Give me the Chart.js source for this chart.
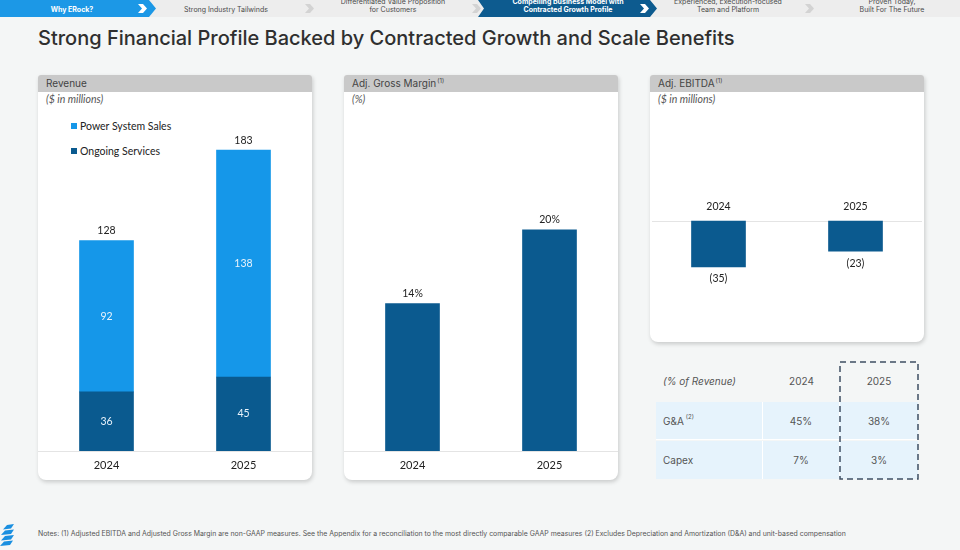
<!DOCTYPE html>
<html>
<head>
<meta charset="utf-8">
<script src="https://cdn.jsdelivr.net/npm/chart.js@4.4.1/dist/chart.umd.min.js"></script>
<style>
  html,body{margin:0;padding:0;}
  body{width:960px;height:550px;background:#f4f6f6;position:relative;overflow:hidden;font-family:Inter,"Open Sans",sans-serif;}
  .abs{position:absolute;}
  #title{left:38px;top:26px;font-size:20px;font-weight:500;color:#2f2f2f;line-height:24px;white-space:nowrap;}
  .panel{position:absolute;background:#fff;border-radius:3px 3px 8px 8px;box-shadow:1px 2px 4px rgba(0,0,0,0.18);}
  .phead{position:absolute;left:0;top:0;right:0;height:17px;background:#c9c9c9;border-radius:3px 3px 0 0;font-size:10px;color:#444;line-height:17px;padding-left:8px;box-sizing:border-box;}
  .phead sup{font-size:6px;vertical-align:top;line-height:12px;margin-left:1px;}
  .psub{position:absolute;left:8px;top:18px;font-family:Lato,"Open Sans",sans-serif;font-style:italic;font-size:10.5px;color:#555;}
  canvas{position:absolute;}
  .leg{position:absolute;font-family:Lato,"Open Sans",sans-serif;font-size:10.5px;color:#222;white-space:nowrap;line-height:12px;}
  .leg i{display:inline-block;width:6px;height:6px;margin-right:3px;vertical-align:1px;}
  .tbl{position:absolute;font-size:10px;color:#555;}
  .cell{position:absolute;height:38px;line-height:38px;box-sizing:border-box;}
  .notes{left:38px;top:529px;font-size:6.9px;color:#555;white-space:nowrap;}
</style>
</head>
<body>
<script>
// ---------- data ----------
const years = ['2024', '2025'];
const powerSystemSales = [92, 138];
const ongoingServices = [36, 45];
const grossMarginPct = [13.6, 20.4];
const adjEbitda = [-35, -23];
const tableHeader = ['(% of Revenue)', '2024', '2025'];
const tableRowNames = ['G&A', 'Capex'];
const gaPct = [45, 38];
const capexPct = [7, 3];
const navItems = [
  ['Why ERock?'],
  ['Strong Industry Tailwinds'],
  ['Differentiated Value Proposition', 'for Customers'],
  ['Compelling Business Model with', 'Contracted Growth Profile'],
  ['Experienced, Execution-focused', 'Team and Platform'],
  ['Proven Today,', 'Built For The Future']
];
</script>

<svg class="abs" style="left:0;top:0" width="960" height="18" id="nav"></svg>

<div id="title" class="abs">Strong Financial Profile Backed by Contracted Growth and Scale Benefits</div>

<div class="panel" style="left:38px;top:75px;width:274px;height:405px;">
  <div class="phead">Revenue</div>
  <div class="psub">($ in millions)</div>
  <div class="leg" style="left:33px;top:45px;"><i style="background:#1597e9"></i>Power System Sales</div>
  <div class="leg" style="left:33px;top:70px;"><i style="background:#0a5a8f"></i>Ongoing Services</div>
</div>
<div class="panel" style="left:344px;top:75px;width:274px;height:405px;">
  <div class="phead">Adj. Gross Margin<sup>(1)</sup></div>
  <div class="psub">(%)</div>
</div>
<div class="panel" style="left:650px;top:75px;width:274px;height:267px;">
  <div class="phead">Adj. EBITDA<sup>(1)</sup></div>
  <div class="psub">($ in millions)</div>
</div>

<canvas id="c1" width="274" height="389" style="left:38px;top:91px;"></canvas>
<canvas id="c2" width="274" height="389" style="left:344px;top:91px;"></canvas>
<canvas id="c3" width="274" height="250" style="left:650px;top:92px;"></canvas>

<div id="tbl" class="tbl" style="left:656px;top:362px;width:262px;height:117px;"></div>
<svg class="abs" style="left:838px;top:360px" width="84" height="122">
  <rect x="2" y="2" width="78" height="117" fill="none" stroke="#3e4f63" stroke-width="1.5" stroke-dasharray="6,4"/>
</svg>

<svg class="abs" style="left:0;top:524px" width="16" height="24">
  <polygon points="7,1 14,0 11,4.5 3,5.5" fill="#1a8fe0"/>
  <polygon points="5,6.5 14,5.5 11,10 1,11" fill="#1a8fe0"/>
  <polygon points="5,12 14,11 11,15.5 1,16.5" fill="#1a8fe0"/>
  <polygon points="4,17.5 13,16.5 10,21 0,22" fill="#1a8fe0"/>
</svg>
<div class="abs notes">Notes: (1) Adjusted EBITDA and Adjusted Gross Margin are non-GAAP measures. See the Appendix for a reconciliation to the most directly comparable GAAP measures (2) Excludes Depreciation and Amortization (D&amp;A) and unit-based compensation</div>

<script>
// ---------- nav bar ----------
(function(){
  const svg = document.getElementById('nav');
  const NS = 'http://www.w3.org/2000/svg';
  function el(tag, attrs, text){
    const e = document.createElementNS(NS, tag);
    for (const k in attrs) e.setAttribute(k, attrs[k]);
    if (text !== undefined) e.textContent = text;
    svg.appendChild(e); return e;
  }
  el('rect', {x:0, y:0, width:960, height:17, fill:'#ededed'});
  el('polygon', {points:'0,0 149,0 156,8.5 149,17 0,17', fill:'#1c98e6'});
  el('polygon', {points:'478,0 650,0 657,8.5 650,17 478,17 484,8.5', fill:'#0d5b8f'});
  const centers = [72, 226, 393, 568, 728, 892];
  const chev = [143, 310, 477, 645, 810];
  const active = [true, false, false, true, false, false];
  navItems.forEach((lines, i) => {
    const col = active[i] ? '#ffffff' : '#4a4a4a';
    const fw = active[i] ? '700' : '400';
    if (lines.length === 1) {
      el('text', {x:centers[i], y:11.5, 'text-anchor':'middle', 'font-size':'7', 'font-family':'Inter, sans-serif', 'font-weight':fw, fill:col}, lines[0]);
    } else {
      el('text', {x:centers[i], y:3.5, 'text-anchor':'middle', 'font-size':'7', 'font-family':'Inter, sans-serif', 'font-weight':fw, fill:col}, lines[0]);
      el('text', {x:centers[i], y:12, 'text-anchor':'middle', 'font-size':'7', 'font-family':'Inter, sans-serif', 'font-weight':fw, fill:col}, lines[1]);
    }
  });
  chev.forEach((cx, i) => {
    const c = (i === 0 || i === 3) ? '#ffffff' : '#d3d3d3';
    el('polygon', {points:`${cx-5},4 ${cx},4 ${cx+4},8.5 ${cx},13 ${cx-5},13 ${cx-1},8.5`, fill:c});
  });
})();

// ---------- table ----------
(function(){
  const t = document.getElementById('tbl');
  const colX = [0, 107, 184];
  const colW = [107, 77, 78];
  function cell(text, r, c, opts){
    const d = document.createElement('div');
    d.className = 'cell';
    d.style.left = colX[c] + 'px';
    d.style.top = (r * 39.5) + 'px';
    d.style.width = colW[c] + 'px';
    d.style.textAlign = c === 0 ? 'left' : 'center';
    if (c === 0) d.style.paddingLeft = '7px';
    if (r > 0) { d.style.background = '#e6f3fc'; d.style.borderRight = c < 2 ? '1.5px solid #ffffff' : 'none'; d.style.borderBottom = r === 1 ? '1.5px solid #ffffff' : 'none'; }
    if (opts && opts.italic) d.style.fontStyle = 'italic';
    d.innerHTML = text;
    t.appendChild(d);
  }
  cell(tableHeader[0], 0, 0, {italic:true});
  cell(tableHeader[1], 0, 1);
  cell(tableHeader[2], 0, 2);
  const rowVals = [gaPct, capexPct];
  tableRowNames.forEach((n, i) => {
    const name = n === 'G&A' ? 'G&amp;A<sup style="font-size:6px;vertical-align:top;line-height:30px;margin-left:2px">(2)</sup>' : n;
    cell(name, i + 1, 0);
    cell(rowVals[i][0] + '%', i + 1, 1);
    cell(rowVals[i][1] + '%', i + 1, 2);
  });
})();

// ---------- charts ----------
const LBL_FONT = '10.5px Lato, "Open Sans", sans-serif';
const xAxis = (extra) => Object.assign({
  grid:{display:false, drawTicks:false},
  border:{display:true, color:'#e4e4e4', width:1},
  ticks:{font:{family:'Lato', size:11}, color:'#222', padding:8},
  afterFit(s){ s.height = 29; }
}, extra || {});
const baseOpts = {
  responsive:false, maintainAspectRatio:false, animation:false,
  layout:{padding:0},
  plugins:{legend:{display:false}, tooltip:{enabled:false}}
};

// Revenue stacked
new Chart(document.getElementById('c1'), {
  type:'bar',
  data:{labels:years, datasets:[
    {label:'Ongoing Services', data:ongoingServices, backgroundColor:'#0a5a8f', barThickness:54, stack:'rev'},
    {label:'Power System Sales', data:powerSystemSales, backgroundColor:'#1597e9', barThickness:54, stack:'rev'}
  ]},
  options:Object.assign({}, baseOpts, {
    scales:{
      x:xAxis({stacked:true}),
      y:{stacked:true, display:false, min:0, max:219}
    }
  }),
  plugins:[{
    id:'revLabels',
    afterDatasetsDraw(chart){
      const ctx = chart.ctx;
      ctx.save();
      ctx.font = LBL_FONT;
      ctx.textAlign = 'center'; ctx.textBaseline = 'middle';
      chart.data.datasets.forEach((ds, di) => {
        chart.getDatasetMeta(di).data.forEach((bar, i) => {
          ctx.fillStyle = '#e9f3fb';
          ctx.fillText(String(ds.data[i]), bar.x, (bar.y + bar.base) / 2);
        });
      });
      const top = chart.getDatasetMeta(1).data;
      years.forEach((y, i) => {
        const total = powerSystemSales[i] + ongoingServices[i];
        ctx.fillStyle = '#222';
        ctx.fillText(String(total), top[i].x, top[i].y - 10);
      });
      ctx.restore();
    }
  }]
});

// Adj. Gross Margin
new Chart(document.getElementById('c2'), {
  type:'bar',
  data:{labels:years, datasets:[
    {label:'Adj. Gross Margin', data:grossMarginPct, backgroundColor:'#0b5a8f', barThickness:54}
  ]},
  options:Object.assign({}, baseOpts, {
    scales:{
      x:xAxis(),
      y:{display:false, min:0, max:33.2}
    }
  }),
  plugins:[{
    id:'gmLabels',
    afterDatasetsDraw(chart){
      const ctx = chart.ctx;
      ctx.save();
      ctx.font = LBL_FONT; ctx.textAlign = 'center'; ctx.textBaseline = 'middle'; ctx.fillStyle = '#222';
      chart.getDatasetMeta(0).data.forEach((bar, i) => {
        ctx.fillText(Math.round(grossMarginPct[i]) + '%', bar.x, bar.y - 10);
      });
      ctx.restore();
    }
  }]
});

// Adj. EBITDA
new Chart(document.getElementById('c3'), {
  type:'bar',
  data:{labels:years, datasets:[
    {label:'Adj. EBITDA', data:adjEbitda, backgroundColor:'#0b5a8f', barThickness:54}
  ]},
  options:Object.assign({}, baseOpts, {
    scales:{
      x:{display:false},
      y:{display:false, min:-92.4, max:98.5}
    }
  }),
  plugins:[{
    id:'ebLabels',
    beforeDatasetsDraw(chart){
      const ctx = chart.ctx;
      const y0 = Math.round(chart.scales.y.getPixelForValue(0)) + 0.5;
      ctx.save();
      ctx.strokeStyle = '#e4e4e4'; ctx.lineWidth = 1;
      ctx.beginPath(); ctx.moveTo(2, y0); ctx.lineTo(chart.width - 2, y0); ctx.stroke();
      ctx.restore();
    },
    afterDatasetsDraw(chart){
      const ctx = chart.ctx;
      const y0 = chart.scales.y.getPixelForValue(0);
      ctx.save();
      ctx.font = LBL_FONT; ctx.textAlign = 'center'; ctx.textBaseline = 'middle'; ctx.fillStyle = '#222';
      chart.getDatasetMeta(0).data.forEach((bar, i) => {
        ctx.fillText(years[i], bar.x, y0 - 14);
        const v = adjEbitda[i];
        const txt = v < 0 ? '(' + Math.abs(v) + ')' : String(v);
        ctx.fillText(txt, bar.x, bar.y + 12);
      });
      ctx.restore();
    }
  }]
});
</script>
</body>
</html>
